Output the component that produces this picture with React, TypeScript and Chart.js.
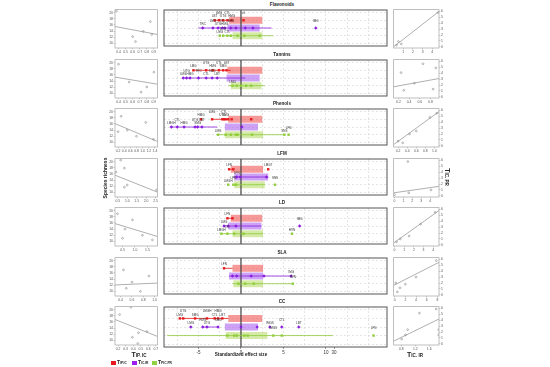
import React, { useEffect, useRef } from "react";
import { Chart, registerables } from "chart.js";
Chart.register(...registerables);

const FONT = "'Liberation Sans', 'DejaVu Sans', Arial, sans-serif";
Chart.defaults.font.family = FONT;

// ---------------- data ----------------
const traits = ["Flavonoids", "Tannins", "Phenols", "LFM", "LD", "SLA", "CC"];

const effectTickValues = [-5, 0, 5, 10, 10.95];
const effectTickLabels = ["-5", "0", "5", "10", "30"];
const effectGrid = [-7.5, -5, -2.5, 0, 2.5, 5, 7.5, 10, 10.95, 12.5, 15];

const redBars = [[-1.4, 2.5], [-1.6, 2.5], [-1.5, 2.5], [-1.2, 2.6], [-1.2, 2.5], [-1.0, 2.6], [-1.5, 2.5]];
const purpleBars = [[-1.6, 2.2], [-1.7, 2.2], [-1.9, 2.0], [-0.8, 3.2], [-1.5, 2.4], [-1.4, 2.6], [-1.9, 2.0]];
const greenBars = [[-1.0, 2.5], [-1.2, 2.4], [-1.9, 2.6], [-0.8, 2.8], [-1.0, 2.6], [-0.9, 2.6], [-1.8, 3.1]];

const redRanges = [[-3.1, -1.1], [-5.6, -1.2], [-3.4, -1.5], [-1.4, -0.9], [-1.6, -1.0], [-2.0, -1.0], [-7.2, -1.5]];
const purpleRanges = [[-5.0, 3.6], [-6.8, 0.5], [-8.2, -2.8], [-0.9, 3.2], [-2.0, 2.4], [-1.4, 6.0], [-4.5, -2.7]];
const greenRanges = [[-2.1, 3.8], [-1.5, 2.8], [-2.9, 5.2], [-0.8, 2.8], [-2.5, 2.6], [-1.0, 6.1], [-8.7, 10.8]];

const redPts = [
  [-3.1, -2.6, -2.1, -1.6, -1.1, 0.3],
  [-5.6, -4.1, -3.3, -2.6, -2.1, -1.7],
  [-4.7, -3.4, -2.2, -2.0, -1.8, -1.5, -1.1, 1.2],
  [-1.4, -0.9, 3.2],
  [-1.6, -1.0],
  [-2.0],
  [-7.2, -6.8, -5.4, -4.0, -3.1, -2.7, -2.2],
];
const redLbls = [
  ["LBT", "LMG", "UTG", "CTL", "HMG", "ctl"],
  ["LMG", "UTG", "HMG", "CTL", "SMG", "LBT"],
  ["HMG", "LMG", "UTG", "CTL", "SMG", "", "", ""],
  ["LFN", "", "LMGT"],
  ["LFN", ""],
  ["LFN"],
  ["LMG", "UTG", "SMG", "LMGH", "CTL", "HMG", "LBT"],
];
const purplePts = [
  [-4.5, -3.3, -2.7, -2.2, -1.9, -1.2, -0.6, 0.5, 1.4, 8.8],
  [-6.8, -6.4, -6.0, -5.0, -4.1, -3.4, -2.8],
  [-8.2, -7.5, -6.7, -5.4, -5.1, -4.6, 0.1],
  [-0.5, -0.1, 3.0],
  [-2.0, -1.5, -0.6, 6.9],
  [-1.0, -0.5, 1.2, 2.7, 5.9],
  [-5.9, -4.5, -4.0, -2.7, 0, 1.9, 3.4, 4.8, 6.8],
];
const purpleLbls = [
  ["TRC", "LMG", "UTG", "CTL", "HMG", "SMG", "", "", "", "IMG"],
  ["LMG", "UTG", "HMG", "TRC", "CTL", "SMG", "LBT"],
  ["LMGH", "CTL", "HMG", "UTG", "SMG", "LBT", ""],
  ["LFN", "", ""],
  ["LMG", "", "", "IMG"],
  ["", "", "", "", "IMG"],
  ["LMG", "HMG", "UTG", "SMG", "", "", "IMGS", "CTL", "LBT"],
];
const greenPts = [
  [-2.5, -2.1, -1.6, -1.2, -0.4, 0.4, 2.2],
  [-1.0, -0.5, 0, 0.6, 1.2],
  [-2.7, -1.8, -1.2, -0.6, -0.4, 1.3, 5.1, 5.6],
  [-1.5, -0.9, -0.6, 4.0],
  [-2.3, -1.6, -0.8, 0.3, 6.0],
  [-0.3, 0.5, 1.5, 6.1],
  [-1.6, -0.8, -0.5, 0.4, 0.8, 3.8, 4.8, 15.6],
];
const greenLbls = [
  ["LMG", "UTG", "CTL", "", "", "", ""],
  ["LMG", "", "", "", ""],
  ["LMG", "", "", "", "", "", "SNS", "LFN"],
  ["LMGH", "LFN", "", "SNS"],
  ["LMGH", "CTL", "", "", "HVN"],
  ["", "", "", "HVN"],
  ["", "", "", "", "", "IMGS", "", "LFN"],
];

// left scatter panels (x: TIP.IC, y: species richness)
const leftXTicks = [
  ["0.4", "0.5", "0.6", "0.7", "0.8", "0.9"],
  ["0.4", "0.5", "0.6", "0.7", "0.8", "0.9"],
  ["0.2", "0.4", "0.6", "0.8", "1.0", "1.2", "1.4"],
  ["0.5", "1.0", "1.5", "2.0", "2.5"],
  ["0.5", "1.0", "1.5"],
  ["0.4", "0.6", "0.8", "1.0"],
  ["0.2", "0.3", "0.4", "0.5", "0.6", "0.7"],
];
const leftXRange = [[0.35, 0.95], [0.35, 0.95], [0.1, 1.48], [0.35, 2.6], [0.2, 1.9], [0.3, 1.05], [0.16, 0.72]];
const leftYTicks = ["10", "12", "14", "16", "18", "20"];
const leftYRange = [8.5, 21];
const leftPtsX = [
  [0.85, 0.87, 0.64, 0.37, 0.6, 0.75],
  [0.4, 0.55, 0.72, 0.9, 0.8],
  [0.3, 0.5, 0.8, 1.1, 1.35, 0.2],
  [0.65, 0.4, 0.85, 1.0, 0.85, 2.55],
  [0.3, 0.6, 0.9, 1.3, 1.7, 0.5],
  [0.45, 0.6, 0.75, 0.9, 0.5],
  [0.22, 0.37, 0.39, 0.47, 0.58, 0.46],
];
const leftPtsY = [
  [17.1, 12.9, 10.6, 20.5, 12.2, 13.9],
  [19.5, 13.7, 10.4, 16.9, 12.1],
  [18.5, 14, 12, 16.5, 11, 13.5],
  [20.5, 16.6, 11.7, 12.4, 17.9, 10.8],
  [19, 14, 17, 12, 10.5, 11],
  [17, 13, 10, 15, 11],
  [18.4, 20.8, 11.0, 12.5, 12.9, 9.0],
];
const leftFit = [[15.5, 12.9], [15.3, 13.0], [16.1, 10.3], [15.6, 10.1], [15.8, 11.6], [12.1, 12.7], [16.8, 11.3]];

// right scatter panels (x: TIC.IR, y: TIC.PR)
const rightXTicks = [
  ["1", "2", "3", "4"],
  ["0.2", "0.4", "0.6", "0.8"],
  ["0.2", "0.4", "0.6", "0.8", "1.0"],
  ["0", "1", "2", "3", "4"],
  ["0", "1", "2", "3", "4"],
  ["0", "2", "4", "6", "8"],
  ["0.8", "1.2", "1.6"],
];
const rightXRange = [[0, 4.7], [0.11, 0.96], [0.1, 1.1], [-0.1, 5.0], [-0.1, 4.6], [-0.2, 8.3], [0.58, 1.88]];
const rightYTicks = ["0", "1", "2", "3", "4", "5", "6"];
const rightYRange = [-0.2, 6.3];
const rightPtsX = [
  [0.3, 0.5, 0.8, 4.6],
  [0.25, 0.66, 0.9, 0.3, 0.85, 0.5],
  [0.2, 0.3, 0.45, 0.6, 0.9, 1.05],
  [1.5, 0, 1.6, 4.1],
  [0.2, 0.6, 1.5, 2.7, 4.2],
  [0.2, 0.5, 1, 4, 7.8, 2],
  [1.8, 1.32, 0.98, 0.81, 0.92, 1.87, 1.87],
];
const rightPtsY = [
  [0.3, 0.9, 0.5, 5.8],
  [4.1, 5.6, 4.9, 1.1, 1.3, 2.3],
  [0.8, 0.5, 2.0, 2.5, 4.8, 5.5],
  [5.8, 0.2, 0.5, 1.0],
  [0.5, 1, 1.5, 3.5, 5.5],
  [2, 0.5, 1.2, 3, 5.8, 1.8],
  [5.9, 5.2, 2.4, 0.8, 1.5, 2.4, 1.5],
];
const rightFit = [[0, 6], [1.7, 3.1], [0.2, 5.8], [0.5, 1.6], [0.3, 5.8], [1.6, 5.5], [0.45, 4.2]];

const legendItems = [
  { main: "T", sub: "IP.IC", color: "#e8191c" },
  { main: "T", sub: "IC.IR", color: "#9b1ef0" },
  { main: "T", sub: "PIC.PR", color: "#8fd13f" },
];

// ---------------- styling ----------------
const ROW_Y = { red: 3.0, purple: 2.1, green: 1.2 };
const COLORS = {
  redBar: "rgba(240,90,90,0.62)",
  purpleBar: "rgba(172,100,240,0.6)",
  greenBar: "rgba(178,216,96,0.55)",
  red: "#e8191c",
  purple: "#8b1ee0",
  green: "#8fce3a",
};

const rowTop = (i: number) => Math.round(8 + 49.5 * i);

function framePlugin(color: string, width: number) {
  return {
    id: "frame",
    afterDraw(chart: any) {
      const { ctx, chartArea: a } = chart;
      ctx.save();
      ctx.strokeStyle = color;
      ctx.lineWidth = width;
      ctx.strokeRect(a.left, a.top, a.right - a.left, a.bottom - a.top);
      ctx.restore();
    },
  };
}

const pointLabelPlugin = {
  id: "ptlabels",
  afterDatasetsDraw(chart: any) {
    const ctx = chart.ctx;
    chart.data.datasets.forEach((ds: any, i: number) => {
      if (!ds.ptLabels) return;
      const meta = chart.getDatasetMeta(i);
      ctx.save();
      ctx.font = `3px ${FONT}`;
      ctx.fillStyle = "#333";
      ctx.textAlign = "center";
      ctx.textBaseline = "bottom";
      meta.data.forEach((el: any, j: number) => {
        const t = ds.ptLabels[j];
        if (!t) return;
        const dy = j % 2 ? 5.5 : 2.2;
        ctx.fillText(t, el.x, el.y - dy);
      });
      ctx.restore();
    });
  },
};

function forestConfig(i: number, bottom: boolean): any {
  const seg = (r: number[], y: number, color: string, w: number, order: number) => ({
    data: [{ x: r[0], y }, { x: r[1], y }],
    showLine: true,
    borderColor: color,
    borderWidth: w,
    borderCapStyle: "butt",
    pointRadius: 0,
    order,
  });
  const pts = (vals: number[], lbls: string[], y: number, color: string, style: string) => ({
    data: vals.map((v) => ({ x: v, y })),
    backgroundColor: color,
    borderColor: color,
    borderWidth: 0,
    pointStyle: style,
    pointRadius: 1.7,
    ptLabels: lbls,
    order: 0,
  });
  const datasets = [
    pts(redPts[i], redLbls[i], ROW_Y.red, COLORS.red, "rect"),
    pts(purplePts[i], purpleLbls[i], ROW_Y.purple, COLORS.purple, "rectRot"),
    pts(greenPts[i], greenLbls[i], ROW_Y.green, COLORS.green, "rect"),
    seg(redRanges[i], ROW_Y.red, COLORS.red, 0.8, 1),
    seg(purpleRanges[i], ROW_Y.purple, COLORS.purple, 0.8, 1),
    seg(greenRanges[i], ROW_Y.green, COLORS.green, 0.8, 1),
    seg([0, 0], 0, "#444", 1.2, 2),
    seg(redBars[i], ROW_Y.red, COLORS.redBar, 7, 3),
    seg(purpleBars[i], ROW_Y.purple, COLORS.purpleBar, 7, 3),
    seg(greenBars[i], ROW_Y.green, COLORS.greenBar, 7, 3),
  ];
  // zero line spans full height
  datasets[6].data = [{ x: 0, y: 0 }, { x: 0, y: 4.2 }];
  return {
    type: "scatter",
    data: { datasets },
    plugins: [framePlugin("#555", 1), pointLabelPlugin],
    options: {
      responsive: false,
      animation: false,
      devicePixelRatio: 1,
      layout: { padding: { left: 4, right: 5, top: 2, bottom: 0 } },
      plugins: { legend: { display: false }, tooltip: { enabled: false } },
      scales: {
        x: {
          type: "linear",
          min: -9.06,
          max: 17.18,
          afterBuildTicks: (s: any) => {
            s.ticks = effectGrid.map((v) => ({ value: v }));
          },
          afterFit: (s: any) => {
            s.height = bottom ? 9 : 0;
            s.paddingLeft = 0;
            s.paddingRight = 0;
          },
          grid: {
            color: (c: any) => (c.tick && c.tick.value === 10.95 ? "rgba(0,0,0,0)" : "#d4d4d4"),
            lineWidth: 0.6,
            drawTicks: bottom,
            tickLength: 2,
            tickColor: (c: any) => (c.tick && effectTickValues.includes(c.tick.value) ? "#555" : "rgba(0,0,0,0)"),
          },
          border: { display: false, dash: [2, 2] },
          ticks: {
            display: bottom,
            font: { size: 4.5 },
            color: "#333",
            padding: 1,
            autoSkip: false,
            maxRotation: 0,
            callback: (v: any) => {
              const k = effectTickValues.indexOf(v);
              return k >= 0 ? effectTickLabels[k] : "";
            },
          },
        },
        y: {
          type: "linear",
          min: 0,
          max: 4.2,
          afterBuildTicks: (s: any) => {
            s.ticks = [0.3, 1.2, 2.1, 3.0, 3.9].map((v) => ({ value: v }));
          },
          afterFit: (s: any) => {
            s.width = 0;
            s.paddingTop = 0;
            s.paddingBottom = 0;
          },
          ticks: { display: false },
          grid: { drawTicks: false, color: "#d4d4d4", lineWidth: 0.6 },
          border: { display: false, dash: [2, 2] },
        },
      },
    },
  };
}

function sideConfig(i: number, left: boolean): any {
  const xt = left ? leftXTicks[i] : rightXTicks[i];
  const xr = left ? leftXRange[i] : rightXRange[i];
  const yt = left ? leftYTicks : rightYTicks;
  const yr = left ? leftYRange : rightYRange;
  const px = left ? leftPtsX[i] : rightPtsX[i];
  const py = left ? leftPtsY[i] : rightPtsY[i];
  const fit = left ? leftFit[i] : rightFit[i];
  const tickFont = { size: 3.4 };
  return {
    type: "scatter",
    data: {
      datasets: [
        {
          data: px.map((x, k) => ({ x, y: py[k] })),
          pointRadius: 0.9,
          pointStyle: "circle",
          backgroundColor: "rgba(0,0,0,0)",
          borderColor: "#8a8a8a",
          borderWidth: 0.6,
          order: 0,
        },
        {
          data: [{ x: xr[0], y: fit[0] }, { x: xr[1], y: fit[1] }],
          showLine: true,
          borderColor: "#9a9a9a",
          borderWidth: 0.8,
          pointRadius: 0,
          order: 1,
        },
      ],
    },
    plugins: [framePlugin("#b0b0b0", 0.8)],
    options: {
      responsive: false,
      animation: false,
      devicePixelRatio: 1,
      layout: { padding: left ? { left: 0, right: 2, top: 3, bottom: 0 } : { left: 3, right: 0, top: 3, bottom: 0 } },
      plugins: { legend: { display: false }, tooltip: { enabled: false } },
      scales: {
        x: {
          type: "linear",
          min: xr[0],
          max: xr[1],
          afterBuildTicks: (s: any) => {
            s.ticks = xt.map((t) => ({ value: parseFloat(t) }));
          },
          afterFit: (s: any) => {
            s.height = 8;
            s.paddingLeft = 0;
            s.paddingRight = 0;
          },
          grid: { drawOnChartArea: false, drawTicks: true, tickLength: 1.5, tickColor: "#999", lineWidth: 0.5 },
          border: { display: false },
          ticks: {
            font: tickFont,
            color: "#555",
            padding: 0.5,
            autoSkip: false,
            maxRotation: 0,
            callback: (_v: any, k: number) => xt[k],
          },
        },
        y: {
          type: "linear",
          position: left ? "left" : "right",
          min: yr[0],
          max: yr[1],
          afterBuildTicks: (s: any) => {
            s.ticks = yt.map((t) => ({ value: parseFloat(t) }));
          },
          afterFit: (s: any) => {
            s.width = left ? 14 : 12;
            s.paddingTop = 0;
            s.paddingBottom = 0;
          },
          grid: { drawOnChartArea: false, drawTicks: true, tickLength: 1.5, tickColor: "#999", lineWidth: 0.5 },
          border: { display: false },
          ticks: {
            font: tickFont,
            color: "#555",
            padding: 0.5,
            autoSkip: false,
            callback: (_v: any, k: number) => yt[k],
          },
        },
      },
    },
  };
}

function ChartBox({ left, top, width, height, make }: any) {
  const ref = useRef<HTMLCanvasElement | null>(null);
  useEffect(() => {
    const c = new Chart(ref.current as HTMLCanvasElement, make());
    return () => c.destroy();
  }, []);
  return (
    <div style={{ position: "absolute", left, top, width, height }}>
      <canvas ref={ref} width={width} height={height} style={{ display: "block", width, height }} />
    </div>
  );
}

function Txt({ x, y, size = 5, bold = true, rot = 0, color = "#222", children }: any) {
  const k = size / 10;
  return (
    <div
      style={{
        position: "absolute",
        left: x,
        top: y,
        transform: `translate(-50%,-50%) rotate(${rot}deg) scale(${k})`,
        transformOrigin: "center",
        whiteSpace: "nowrap",
        fontFamily: FONT,
        fontSize: 10,
        fontWeight: bold ? 700 : 400,
        color,
        lineHeight: 1,
      }}
    >
      {children}
    </div>
  );
}

function TSub({ main, sub }: any) {
  return (
    <span>
      {main}
      <span style={{ fontSize: 6.5 }}>{sub}</span>
    </span>
  );
}

export default function App() {
  return (
    <div
      style={{
        position: "fixed",
        left: 0,
        top: 0,
        width: 550,
        height: 367,
        background: "#fff",
        overflow: "hidden",
      }}
    >
      {traits.map((t, i) => {
        const top = rowTop(i);
        const bottom = i === traits.length - 1;
        return (
          <React.Fragment key={t}>
            <Txt x={282} y={top - 3} size={4.6}>
              {t}
            </Txt>
            <ChartBox left={101} top={top - 3} width={61} height={51} make={() => sideConfig(i, true)} />
            <ChartBox
              left={160}
              top={top - 2}
              width={232}
              height={bottom ? 53 : 44}
              make={() => forestConfig(i, bottom)}
            />
            <ChartBox left={389} top={top - 3} width={62} height={51} make={() => sideConfig(i, false)} />
          </React.Fragment>
        );
      })}
      <Txt x={105} y={178} size={5} rot={-90}>
        Species richness
      </Txt>
      <Txt x={447} y={177} size={7} rot={90}>
        <TSub main="T" sub="IC. PR" />
      </Txt>
      <Txt x={139} y={355} size={7}>
        <TSub main="T" sub="IP. IC" />
      </Txt>
      <Txt x={241} y={355} size={4.6}>
        Standardized effect size
      </Txt>
      <Txt x={415} y={355} size={7}>
        <TSub main="T" sub="IC. IR" />
      </Txt>
      {legendItems.map((it, k) => {
        const x0 = [111, 132, 152][k];
        return (
          <React.Fragment key={k}>
            <div style={{ position: "absolute", left: x0, top: 360.5, width: 4.5, height: 4.5, background: it.color }} />
            <div
              style={{
                position: "absolute",
                left: x0 + 5.5,
                top: 359.5,
                transform: "scale(0.5)",
                transformOrigin: "left top",
                fontFamily: FONT,
                fontWeight: 700,
                fontSize: 10,
                whiteSpace: "nowrap",
                lineHeight: 1,
                color: "#222",
              }}
            >
              <TSub main={it.main} sub={it.sub} />
            </div>
          </React.Fragment>
        );
      })}
    </div>
  );
}
